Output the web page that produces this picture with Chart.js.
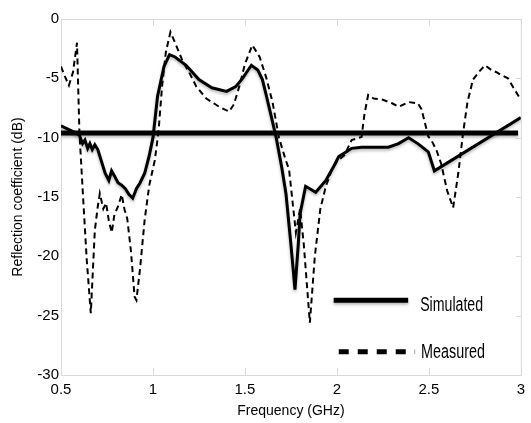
<!DOCTYPE html>
<html>
<head>
<meta charset="utf-8">
<script src="https://cdn.jsdelivr.net/npm/chart.js@4"></script>
<style>
html,body{margin:0;padding:0;background:#fff;}
#wrap{width:531px;height:423px;position:relative;}
</style>
</head>
<body>
<div id="wrap"><canvas id="c" width="531" height="423"></canvas></div>
<script>
// ---- data ----
const freqMeasured = [0.5,0.52,0.543,0.565,0.587,0.60,0.62,0.64,0.662,0.684,0.70,0.711,0.73,0.745,0.76,0.776,0.79,0.81,0.83,0.846,0.86,0.88,0.90,0.91,0.93,0.955,0.98,1.01,1.03,1.05,1.07,1.095,1.12,1.16,1.2,1.236,1.29,1.33,1.36,1.414,1.44,1.469,1.50,1.54,1.58,1.615,1.65,1.685,1.72,1.74,1.777,1.80,1.82,1.853,1.88,1.91,1.94,1.97,2.0,2.04,2.08,2.134,2.15,2.17,2.2,2.25,2.3,2.335,2.39,2.44,2.46,2.497,2.513,2.54,2.567,2.6,2.632,2.66,2.686,2.71,2.74,2.77,2.805,2.84,2.87,2.89,2.93,2.96,3.0];
const measured = [-4.0,-4.8,-5.6,-4.5,-2.0,-9.5,-15.0,-20.3,-24.8,-17.8,-15.8,-14.7,-16.0,-15.5,-17.0,-18.0,-16.5,-15.8,-14.8,-16.1,-16.8,-19.5,-23.4,-23.7,-21.0,-16.9,-14.0,-11.9,-9.5,-5.6,-2.8,-1.1,-2.0,-3.5,-4.6,-5.7,-6.7,-7.1,-7.4,-7.8,-7.2,-5.7,-3.8,-2.2,-3.2,-4.9,-7.0,-10.0,-11.8,-12.7,-18.0,-16.0,-19.0,-25.6,-20.0,-16.0,-14.1,-12.8,-12.0,-11.5,-10.2,-9.95,-8.0,-6.4,-6.7,-6.8,-7.1,-7.4,-7.0,-7.1,-7.6,-9.9,-10.2,-11.0,-12.2,-14.5,-15.9,-13.0,-9.6,-7.0,-5.1,-4.5,-3.9,-4.3,-4.5,-4.7,-5.0,-5.8,-6.8];

const freqSimulated = [0.5,0.54,0.58,0.60,0.617,0.63,0.645,0.657,0.67,0.684,0.70,0.72,0.74,0.76,0.775,0.79,0.81,0.83,0.85,0.87,0.89,0.91,0.93,0.955,0.98,1.0,1.025,1.06,1.09,1.12,1.18,1.25,1.32,1.40,1.45,1.487,1.535,1.57,1.595,1.614,1.64,1.67,1.70,1.723,1.75,1.772,1.79,1.80,1.83,1.885,1.94,1.98,2.01,2.05,2.08,2.134,2.28,2.335,2.39,2.44,2.497,2.53,3.0];
const simulated = [-9.0,-9.3,-9.6,-9.8,-10.5,-10.2,-10.9,-10.5,-11.0,-10.6,-11.0,-12.0,-13.0,-13.6,-12.8,-13.2,-13.8,-14.0,-14.3,-14.8,-15.1,-14.3,-13.8,-13.0,-11.5,-10.0,-6.5,-4.0,-3.0,-3.2,-3.9,-5.1,-5.8,-6.1,-5.7,-5.0,-3.9,-4.3,-5.1,-6.3,-8.0,-10.0,-12.5,-14.7,-19.0,-22.8,-19.0,-16.4,-14.1,-14.6,-13.6,-12.5,-11.6,-11.2,-10.9,-10.8,-10.8,-10.5,-10.0,-10.5,-11.2,-12.8,-8.3];

const thresholdFreq = [0.5, 2.985];
const threshold = [-9.6, -9.6];

const xTicks = [0.5, 1, 1.5, 2, 2.5, 3];
const yTicks = [0, -5, -10, -15, -20, -25, -30];
const seriesNames = ['Simulated', 'Measured'];

// ---- build ----
const pts = (xs, ys) => xs.map((x, i) => ({x: x, y: ys[i]}));

function stretchedText(ctx, text, x, y, targetW, size) {
  ctx.save();
  ctx.font = size + 'px "Liberation Sans Narrow", "Liberation Sans", sans-serif';
  const m = ctx.measureText(text).width;
  ctx.translate(x, y);
  ctx.scale(targetW / m, 1);
  ctx.fillText(text, 0, 0);
  ctx.restore();
}

const boxPlugin = {
  id: 'boxTicks',
  beforeDatasetsDraw(chart) {
    const {ctx, chartArea: a, scales} = chart;
    ctx.save();
    ctx.strokeStyle = '#d9d9d9';
    ctx.lineWidth = 1;
    ctx.strokeRect(a.left + 0.5, a.top + 0.5, a.right - a.left, a.bottom - a.top);
    const L = 7;
    ctx.beginPath();
    xTicks.forEach(v => {
      const px = Math.round(scales.x.getPixelForValue(v)) + 0.5;
      ctx.moveTo(px, a.top); ctx.lineTo(px, a.top + L);
      ctx.moveTo(px, a.bottom); ctx.lineTo(px, a.bottom - L);
    });
    yTicks.forEach(v => {
      const py = Math.round(scales.y.getPixelForValue(v)) + 0.5;
      ctx.moveTo(a.right, py); ctx.lineTo(a.right - 5, py);
    });
    ctx.stroke();
    ctx.restore();
  },
  beforeDatasetDraw(chart, args) {
    const ctx = chart.ctx;
    ctx.save();
    if (args.index !== 1) {
      ctx.shadowColor = 'rgba(0,0,0,0.28)';
      ctx.shadowBlur = 3;
      ctx.shadowOffsetY = 2;
    }
  },
  afterDatasetDraw(chart) {
    chart.ctx.restore();
  },
  afterDraw(chart) {
    const {ctx, chartArea: a} = chart;
    const w = a.right - a.left, h = a.bottom - a.top;
    ctx.save();
    ctx.textBaseline = 'middle';
    ctx.fillStyle = '#000';
    // Simulated
    const y1 = a.top + h * 0.790;
    ctx.save();
    ctx.shadowColor = 'rgba(0,0,0,0.28)'; ctx.shadowBlur = 3; ctx.shadowOffsetY = 2;
    ctx.strokeStyle = '#000'; ctx.lineWidth = 5;
    ctx.beginPath(); ctx.moveTo(a.left + w * 0.593, y1); ctx.lineTo(a.left + w * 0.755, y1); ctx.stroke();
    ctx.restore();
    stretchedText(ctx, seriesNames[0], a.left + w * 0.781, y1 + 5, w * 0.137, 20);
    // Measured
    const y2 = a.top + h * 0.935;
    ctx.strokeStyle = '#000'; ctx.lineWidth = 5;
    ctx.setLineDash([10, 9]);
    ctx.beginPath(); ctx.moveTo(a.left + w * 0.604, y2); ctx.lineTo(a.left + w * 0.770, y2); ctx.stroke();
    ctx.setLineDash([]);
    stretchedText(ctx, seriesNames[1], a.left + w * 0.783, y2 + 1, w * 0.139, 20);
    ctx.restore();
  }
};

new Chart(document.getElementById('c'), {
  type: 'line',
  data: {
    datasets: [
      {label: seriesNames[0], data: pts(freqSimulated, simulated), borderColor: '#000', borderWidth: 3, pointRadius: 0, tension: 0},
      {label: seriesNames[1], data: pts(freqMeasured, measured), borderColor: '#000', borderWidth: 2, borderDash: [6, 4], pointRadius: 0, tension: 0},
      {label: 'limit', data: pts(thresholdFreq, threshold), borderColor: '#000', borderWidth: 5, pointRadius: 0, tension: 0, borderCapStyle: 'butt'}
    ]
  },
  options: {
    responsive: false,
    animation: false,
    devicePixelRatio: 1,
    layout: {padding: {top: 19, right: 8, left: 0, bottom: 0}},
    plugins: {legend: {display: false}, tooltip: {enabled: false}},
    scales: {
      x: {
        type: 'linear', min: 0.5, max: 3,
        afterBuildTicks: s => { s.ticks = xTicks.map(v => ({value: v})); },
        afterFit: s => { s.height = 48; },
        grid: {display: false, drawTicks: false},
        border: {display: false},
        ticks: {color: '#000', font: {family: '"Liberation Sans", Arial, sans-serif', size: 15}, padding: 6, maxRotation: 0,
          callback: v => String(v)},
        title: {display: true, text: 'Frequency (GHz)', color: '#000',
          font: {family: '"Liberation Sans", Arial, sans-serif', size: 14}, padding: {top: 2, bottom: 3}}
      },
      y: {
        type: 'linear', min: -30, max: 0,
        afterBuildTicks: s => { s.ticks = yTicks.map(v => ({value: v})); },
        afterFit: s => { s.width = 61; },
        grid: {display: false, drawTicks: false},
        border: {display: false},
        ticks: {color: '#000', font: {family: '"Liberation Sans", Arial, sans-serif', size: 15}, padding: 2,
          callback: v => String(v)},
        title: {display: true, text: 'Reflection coefficient (dB)', color: '#000',
          font: {family: '"Liberation Sans", Arial, sans-serif', size: 14}, padding: {top: 10, bottom: 0}}
      }
    }
  },
  plugins: [boxPlugin]
});
</script>
</body>
</html>
